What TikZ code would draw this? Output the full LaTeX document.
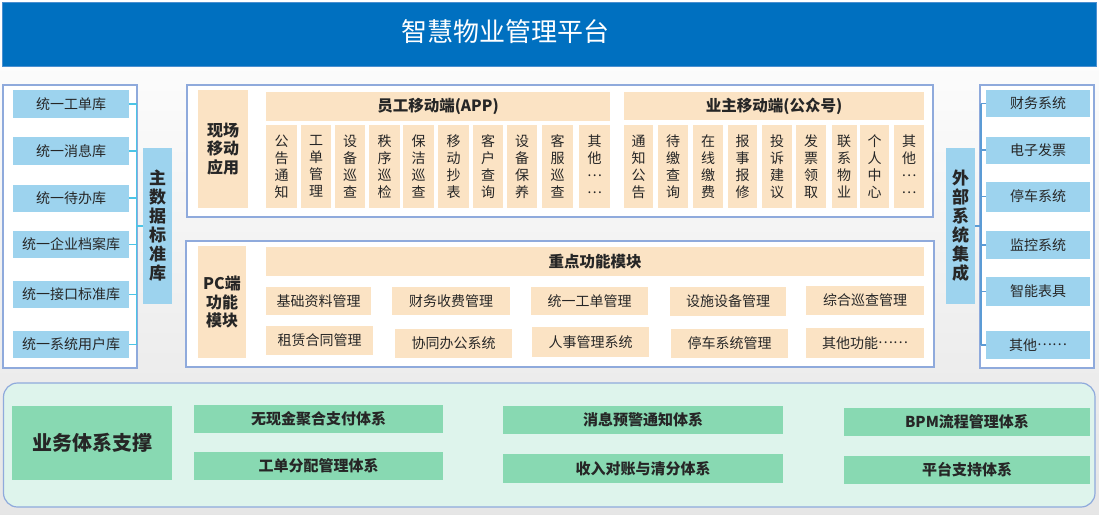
\documentclass[tikz,border=0pt]{standalone}
\usepackage{fontspec}
\newfontfamily\cjk{Noto Sans CJK SC}
\usetikzlibrary{calc}
\newcommand\middots{\raisebox{0.32em}{…}}
\definecolor{banner}{HTML}{0070C0}
\definecolor{bannerline}{HTML}{4A8FD0}
\definecolor{peach}{HTML}{FBE3C4}
\definecolor{sky}{HTML}{9DD3EE}
\definecolor{mint}{HTML}{88D9B2}
\definecolor{mintbg}{HTML}{DEF4EC}
\definecolor{panelline}{HTML}{8FAADC}
\definecolor{lconncol}{HTML}{4CC4E6}
\definecolor{rconncol}{HTML}{5B9BD5}
\definecolor{txt}{HTML}{262626}
\begin{document}
\begin{tikzpicture}[x=1pt,y=-1pt,
  every node/.style={inner sep=0pt, outer sep=0pt, text=txt, align=center},
  panel/.style={draw=panelline, line width=1.2pt, fill=white},
  sz/.style 2 args={minimum width=#1, minimum height=#2},
  ob/.style={fill=peach},
  bb/.style={fill=sky},
  gb/.style={fill=mint},
  small/.style={font=\cjk\fontsize{14}{17}\selectfont},
  headb/.style={font=\cjk\bfseries\fontsize{15.5}{18}\selectfont},
  sideb/.style={font=\cjk\bfseries\fontsize{16}{18.5}\selectfont},
  colb/.style={font=\cjk\bfseries\fontsize{17}{19}\selectfont},
  greenb/.style={font=\cjk\bfseries\fontsize{15}{18}\selectfont},
  lconn/.style={draw=lconncol, line width=1.3pt},
  rconn/.style={draw=rconncol, line width=1.3pt}
]
\useasboundingbox (0,0) rectangle (1099,514);
\fill[top color=white, bottom color=black!10] (0,0) rectangle (1099,514);

% banner
\fill[banner, draw=bannerline, line width=0.8pt] (2,2) rectangle (1096,66);
\node[font=\cjk\fontsize{26}{30}\selectfont, text=white] (title) at (505,32) {智慧物业管理平台};

% ---------- left column ----------
\draw[panel] (3,85) rectangle (137,368);
\node[bb, sz={116}{28}, small] (lb1) at (71,104) {统一工单库};
\node[bb, sz={116}{28}, small] (lb2) at (71,151) {统一消息库};
\node[bb, sz={116}{27}, small] (lb3) at (71,198) {统一待办库};
\node[bb, sz={116}{27}, small] (lb4) at (71,244.5) {统一企业档案库};
\node[bb, sz={116}{27}, small] (lb5) at (71,294.5) {统一接口标准库};
\node[bb, sz={116}{27}, small] (lb6) at (71,344.5) {统一系统用户库};
\node[bb, sz={29}{156}, colb] (mdm) at (157.5,226) {主\\数\\据\\标\\准\\库};
\coordinate (lbus) at (136.5,226);
\foreach \b in {lb1,lb2,lb3,lb4,lb5,lb6}
  \draw[lconn] (\b.east) -- (\b.east -| lbus);
\draw[lconn] (lb1.east -| lbus) -- (lb6.east -| lbus);
\draw[lconn] (lbus) -- (mdm.west);

% ---------- center top ----------
\draw[panel] (187,85) rectangle (933,217);
\node[ob, sz={50}{118}, sideb] (xc) at (223,149) {现场\\移动\\应用};
\node[ob, sz={344}{29}, headb] (eh) at (438,106.5) {员工移动端(APP)};
\node[ob, sz={31}{83}, small] (e1) at (281.5,166.5) {公\\告\\通\\知};
\node[ob, sz={30}{83}, small] (e2) at (316,166.5) {工\\单\\管\\理};
\node[ob, sz={30}{83}, small] (e3) at (350,166.5) {设\\备\\巡\\查};
\node[ob, sz={31}{83}, small] (e4) at (384.5,166.5) {秩\\序\\巡\\检};
\node[ob, sz={31}{83}, small] (e5) at (418.5,166.5) {保\\洁\\巡\\查};
\node[ob, sz={31}{83}, small] (e6) at (453.5,166.5) {移\\动\\抄\\表};
\node[ob, sz={30}{83}, small] (e7) at (488,166.5) {客\\户\\查\\询};
\node[ob, sz={30}{83}, small] (e8) at (522,166.5) {设\\备\\保\\养};
\node[ob, sz={31}{83}, small] (e9) at (557.5,166.5) {客\\服\\巡\\查};
\node[ob, sz={31}{83}, small] (e10) at (594.5,166.5) {其\\他\\\middots\\\middots};

\node[ob, sz={300}{28}, headb] (oh) at (774,106) {业主移动端(公众号)};
\node[ob, sz={29}{83}, small] (o1) at (638.5,166.5) {通\\知\\公\\告};
\node[ob, sz={30}{83}, small] (o2) at (673,166.5) {待\\缴\\查\\询};
\node[ob, sz={30}{83}, small] (o3) at (708,166.5) {在\\线\\缴\\费};
\node[ob, sz={29}{83}, small] (o4) at (742.5,166.5) {报\\事\\报\\修};
\node[ob, sz={30}{83}, small] (o5) at (777,166.5) {投\\诉\\建\\议};
\node[ob, sz={30}{83}, small] (o6) at (811,166.5) {发\\票\\领\\取};
\node[ob, sz={25}{83}, small] (o7) at (844,166.5) {联\\系\\物\\业};
\node[ob, sz={29}{83}, small] (o8) at (874.5,166.5) {个\\人\\中\\心};
\node[ob, sz={30}{83}, small] (o9) at (909,166.5) {其\\他\\\middots\\\middots};

% ---------- center bottom (PC) ----------
\draw[panel] (186,241) rectangle (934,367);
\node[ob, sz={48}{112}, sideb] (pc) at (222,302) {PC端\\功能\\模块};
\node[ob, sz={658}{29}, headb] (kh) at (595,261.5) {重点功能模块};
\node[ob, sz={105}{28}, small] (p1) at (318.5,301) {基础资料管理};
\node[ob, sz={118}{28}, small] (p2) at (451,301) {财务收费管理};
\node[ob, sz={117}{28}, small] (p3) at (589.5,301) {统一工单管理};
\node[ob, sz={116}{29}, small] (p4) at (728,301) {设施设备管理};
\node[ob, sz={118}{29}, small] (p5) at (865,300.5) {综合巡查管理};
\node[ob, sz={107}{29}, small] (p6) at (319.5,340.5) {租赁合同管理};
\node[ob, sz={117}{29}, small] (p7) at (453.5,343.5) {协同办公系统};
\node[ob, sz={117}{30}, small] (p8) at (590.5,342) {人事管理系统};
\node[ob, sz={117}{29}, small] (p9) at (729.5,343.5) {停车系统管理};
\node[ob, sz={118}{30}, small] (p10) at (865,343) {其他功能\middots\middots};

% ---------- right column ----------
\draw[panel] (980,85) rectangle (1094,368);
\node[bb, sz={104}{27}, small] (rb1) at (1038,103.5) {财务系统};
\node[bb, sz={104}{27}, small] (rb2) at (1038,150) {电子发票};
\node[bb, sz={104}{30}, small] (rb3) at (1038,196.5) {停车系统};
\node[bb, sz={104}{28}, small] (rb4) at (1038,245) {监控系统};
\node[bb, sz={104}{29}, small] (rb5) at (1038,291.5) {智能表具};
\node[bb, sz={104}{28}, small] (rb6) at (1038,345) {其他\middots\middots};
\node[bb, sz={29}{156}, colb] (ext) at (960.5,226) {外\\部\\系\\统\\集\\成};
\coordinate (rbus) at (981,226);
\foreach \b in {rb1,rb2,rb3,rb4,rb5,rb6}
  \draw[rconn] (\b.west) -- (\b.west -| rbus);
\draw[rconn] (rb1.west -| rbus) -- (rb6.west -| rbus);
\draw[rconn] (ext.east) -- (rbus);

% ---------- bottom ----------
\draw[fill=mintbg, draw=panelline, line width=1.2pt, rounded corners=14pt] (3.5,383) rectangle (1095,507);
\node[gb, sz={160}{74}, font=\cjk\bfseries\fontsize{20}{24}\selectfont] (bt) at (92,443) {业务体系支撑};
\node[gb, sz={249}{28}, greenb] (g1) at (318.5,419) {无现金聚合支付体系};
\node[gb, sz={249}{28}, greenb] (g2) at (318.5,466) {工单分配管理体系};
\node[gb, sz={280}{28}, greenb] (g3) at (643,420) {消息预警通知体系};
\node[gb, sz={280}{29}, greenb] (g4) at (643,468.5) {收入对账与清分体系};
\node[gb, sz={246}{28}, greenb] (g5) at (967,422) {BPM流程管理体系};
\node[gb, sz={246}{28}, greenb] (g6) at (967,470) {平台支持体系};
\end{tikzpicture}
\end{document}
